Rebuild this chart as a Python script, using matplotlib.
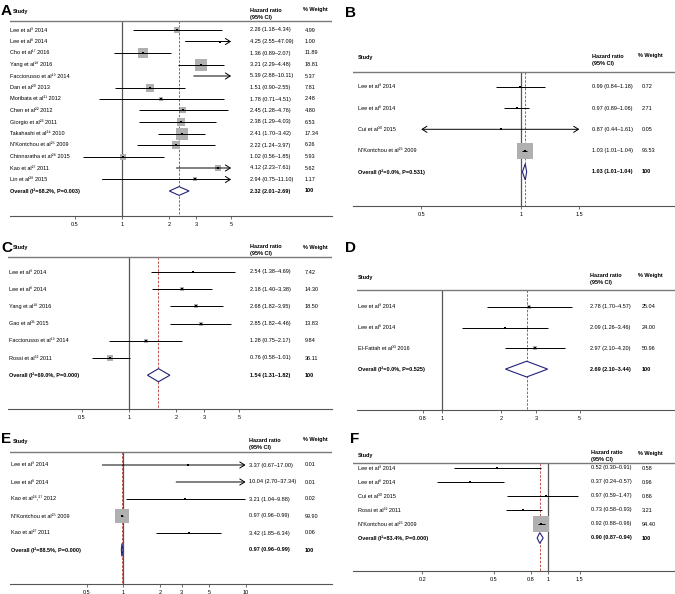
import numpy as np
import matplotlib
matplotlib.use('Agg')
import matplotlib.pyplot as plt
from matplotlib.transforms import blended_transform_factory
from matplotlib.patches import Polygon
from matplotlib.ticker import NullLocator

plt.rcParams['font.family'] = ['Liberation Sans', 'DejaVu Sans']

W, H = 675, 594

# ---------------- data ----------------
a_studies = ["Lee et al⁹ 2014", "Lee et al⁸ 2014", "Cho et al¹⁷ 2016", "Yang et al¹⁸ 2016",
             "Facciorusso et al¹⁹ 2014", "Dan et al²⁰ 2013", "Moribata et al²¹ 2012",
             "Chen et al²² 2012", "Giorgio et al²³ 2011", "Takahashi et al²⁴ 2010",
             "N'Kontchou et al²⁵ 2009", "Chinnaratha et al²⁶ 2015", "Kao et al²⁷ 2011",
             "Lin et al²⁸ 2015"]
a_hr = [2.26, 4.25, 1.36, 3.21, 5.39, 1.51, 1.78, 2.45, 2.38, 2.41, 2.22, 1.02, 4.12, 2.94]
a_lo = [1.18, 2.55, 0.89, 2.29, 2.88, 0.90, 0.71, 1.28, 1.29, 1.70, 1.24, 0.56, 2.23, 0.75]
a_hi = [4.34, 47.09, 2.07, 4.48, 10.11, 2.55, 4.51, 4.76, 4.03, 3.42, 3.97, 1.85, 7.61, 11.10]
a_wt = [4.99, 1.00, 11.89, 18.81, 5.37, 7.81, 2.48, 4.80, 6.53, 17.34, 6.26, 5.93, 5.62, 1.17]
a_overall = [2.32, 2.01, 2.69]
a_het = "Overall (I²=68.2%, P=0.003)"
a_ticks = [0.5, 1, 2, 3, 5]
a_ticklabels = ["0.5", "1", "2", "3", "5"]

b_studies = ["Lee et al⁹ 2014", "Lee et al⁸ 2014", "Cui et al³⁰ 2015", "N'Kontchou et al²⁵ 2009"]
b_hr = [0.99, 0.97, 0.87, 1.03]
b_lo = [0.84, 0.89, 0.44, 1.01]
b_hi = [1.18, 1.06, 1.61, 1.04]
b_wt = [0.72, 2.71, 0.05, 96.53]
b_overall = [1.03, 1.01, 1.04]
b_het = "Overall (I²=0.0%, P=0.531)"
b_ticks = [0.5, 1, 1.5]
b_ticklabels = ["0.5", "1", "1.5"]

c_studies = ["Lee et al⁹ 2014", "Lee et al⁸ 2014", "Yang et al¹⁸ 2016", "Gao et al³¹ 2015",
             "Facciorusso et al¹⁹ 2014", "Rossi et al³² 2011"]
c_hr = [2.54, 2.18, 2.68, 2.85, 1.28, 0.76]
c_lo = [1.38, 1.40, 1.82, 1.82, 0.75, 0.58]
c_hi = [4.69, 3.38, 3.95, 4.46, 2.17, 1.01]
c_wt = [7.42, 14.30, 18.50, 13.83, 9.84, 36.11]
c_overall = [1.54, 1.31, 1.82]
c_het = "Overall (I²=69.0%, P=0.000)"
c_ticks = [0.5, 1, 2, 3, 5]
c_ticklabels = ["0.5", "1", "2", "3", "5"]

d_studies = ["Lee et al⁹ 2014", "Lee et al⁸ 2014", "El-Fattah et al³³ 2016"]
d_hr = [2.78, 2.09, 2.97]
d_lo = [1.70, 1.26, 2.10]
d_hi = [4.57, 3.46, 4.20]
d_wt = [25.04, 24.00, 50.96]
d_overall = [2.69, 2.10, 3.44]
d_het = "Overall (I²=0.0%, P=0.525)"
d_ticks = [0.8, 1, 2, 3, 5]
d_ticklabels = ["0.8", "1", "2", "3", "5"]

e_studies = ["Lee et al⁹ 2014", "Lee et al⁸ 2014", "Kao et al²⁶,²⁷ 2012",
             "N'Kontchou et al²⁵ 2009", "Kao et al²⁷ 2011"]
e_hr = [3.37, 10.04, 3.21, 0.97, 3.42]
e_lo = [0.67, 2.70, 1.04, 0.96, 1.85]
e_hi = [17.00, 37.34, 9.88, 0.99, 6.34]
e_wt = [0.01, 0.01, 0.02, 99.90, 0.06]
e_overall = [0.97, 0.96, 0.99]
e_het = "Overall (I²=88.5%, P=0.000)"
e_ticks = [0.5, 1, 2, 3, 5, 10]
e_ticklabels = ["0.5", "1", "2", "3", "5", "10"]

f_studies = ["Lee et al⁹ 2014", "Lee et al⁸ 2014", "Cui et al³⁰ 2015", "Rossi et al³² 2011",
             "N'Kontchou et al²⁵ 2009"]
f_hr = [0.52, 0.37, 0.97, 0.73, 0.92]
f_lo = [0.30, 0.24, 0.59, 0.58, 0.88]
f_hi = [0.91, 0.57, 1.47, 0.93, 0.96]
f_wt = [0.58, 0.96, 0.86, 3.21, 94.40]
f_overall = [0.90, 0.87, 0.94]
f_het = "Overall (I²=83.4%, P=0.000)"
f_ticks = [0.2, 0.5, 0.8, 1, 1.5]
f_ticklabels = ["0.2", "0.5", "0.8", "1", "1.5"]

# ---------------- styles ----------------
BOX = '#b0b0b0'
NAVY = '#23237a'
RED = '#c0504d'
NULLC = '#555555'
AXC = '#555555'
FS = 4.0

fig = plt.figure(figsize=(W / 100, H / 100), dpi=100)


def panel(letter, studies, hr, lo, hi, wt, overall, het, ticks, ticklabels, g):
    left, right, top, bottom = g['left'], g['right'], g['top'], g['bottom']
    ax = fig.add_axes([left / W, 1 - bottom / H, (right - left) / W, (bottom - top) / H])
    idx = lambda px: (px - g['row0']) / g['drow']
    xf = lambda px: (px - left) / (right - left)
    ax.set_xscale('log')
    ax.set_xlim(np.exp((left - g['one']) / g['ppl']), np.exp((right - g['one']) / g['ppl']))
    ybot, ytop = idx(bottom), idx(top)
    ax.set_ylim(ybot, ytop)
    for s in ['top', 'right', 'left']:
        ax.spines[s].set_visible(False)
    ax.spines['bottom'].set_color(AXC)
    ax.spines['bottom'].set_linewidth(0.8)
    ax.set_yticks([])
    ax.set_xticks(ticks)
    ax.set_xticklabels(ticklabels)
    ax.xaxis.set_minor_locator(NullLocator())
    ax.tick_params(axis='x', length=2, width=0.6, color=AXC, labelsize=FS, pad=2.5)
    tr = blended_transform_factory(ax.transAxes, ax.transData)

    tmin, tmax = min(ticks), max(ticks)
    hline = idx(g['hline'])
    ax.axhline(hline, color='#7a7a7a', lw=1.0)
    ax.vlines(1, hline, ybot, color=NULLC, lw=0.9, zorder=1)
    ax.vlines(overall[0], hline, ybot, color=RED, lw=0.7, linestyles=(0, (2.5, 1.5)), zorder=1)

    # headers
    ax.text(xf(g['study_x']), idx(g['study_y']), "Study", transform=tr, fontsize=FS,
            fontweight='bold', va='center', ha='left')
    ax.text(xf(g['hr_x']), idx(g['hr_y'][0]), "Hazard ratio", transform=tr, fontsize=FS,
            fontweight='bold', va='center', ha='left')
    ax.text(xf(g['hr_x']), idx(g['hr_y'][1]), "(95% CI)", transform=tr, fontsize=FS,
            fontweight='bold', va='center', ha='left')
    ax.text(xf(g['wt_hx']), idx(g['hr_y'][0]), "% Weight", transform=tr, fontsize=FS,
            fontweight='bold', va='center', ha='left')

    for i, (name, h, l, u, w) in enumerate(zip(studies, hr, lo, hi, wt)):
        y = i
        lc, uc = max(l, tmin), min(u, tmax)
        la, ra = l < tmin, u > tmax
        if la or ra:
            style = '<->' if (la and ra) else ('->' if ra else '<-')
            ax.annotate('', xy=(uc, y), xytext=(lc, y),
                        arrowprops=dict(arrowstyle=style + ',head_length=0.35,head_width=0.22',
                                        lw=0.7, color='black', shrinkA=0, shrinkB=0), zorder=3)
        else:
            ax.plot([lc, uc], [y, y], color='black', lw=0.7, zorder=3, solid_capstyle='butt')
        if tmin <= h <= tmax:
            side_pt = g['k'] * np.sqrt(w) * 0.72
            ax.scatter([h], [y], s=side_pt ** 2, marker='s', color=BOX, linewidths=0, zorder=2)
            ax.plot([h], [y], marker='s', ms=1.5, color='black', mew=0, zorder=4)
        ax.text(xf(g['lab_x']), y, name, transform=tr, fontsize=FS, va='center', ha='left')
        ax.text(xf(g['hr_x']), y, f"{h:.2f} ({l:.2f}–{u:.2f})", transform=tr, fontsize=FS,
                va='center', ha='left')
        ax.text(xf(g['wt_x']), y, f"{w:.2f}", transform=tr, fontsize=FS, va='center', ha='left')

    yo = len(studies)
    est, olo, ohi = overall
    hh = 0.38
    ax.add_patch(Polygon([(olo, yo), (est, yo - hh), (ohi, yo), (est, yo + hh)], closed=True,
                         facecolor='white', edgecolor=NAVY, lw=0.8, zorder=3))
    ax.text(xf(g['lab_x']), yo, het, transform=tr, fontsize=FS, fontweight='bold',
            va='center', ha='left')
    ax.text(xf(g['hr_x']), yo, f"{est:.2f} ({olo:.2f}–{ohi:.2f})", transform=tr, fontsize=FS,
            fontweight='bold', va='center', ha='left')
    ax.text(xf(g['wt_x']), yo, "100", transform=tr, fontsize=FS, fontweight='bold',
            va='center', ha='left')

    lx, ly = g['letter']
    fig.text(lx / W, 1 - ly / H, letter, fontsize=11, fontweight='bold', va='baseline', ha='left')


geo = {
    'A': dict(left=10, right=332, top=0, bottom=216, row0=30, drow=11.5, one=122, ppl=67.8,
              k=2.8, study_x=13, study_y=11, hr_y=(10, 17), hline=21, letter=(1, 15),
              lab_x=10, hr_x=250, wt_hx=303, wt_x=305),
    'B': dict(left=353, right=675, top=0, bottom=206, row0=86.7, drow=21.3, one=521, ppl=144,
              k=1.53, study_x=358, study_y=58, hr_y=(56, 63), hline=72, letter=(345, 17),
              lab_x=358, hr_x=592, wt_hx=638, wt_x=642),
    'C': dict(left=8, right=332, top=235, bottom=409, row0=272, drow=17.2, one=129, ppl=68.3,
              k=1.0, study_x=13, study_y=247, hr_y=(247, 254), hline=257, letter=(1, 252),
              lab_x=9, hr_x=250, wt_hx=303, wt_x=305),
    'D': dict(left=357, right=675, top=235, bottom=410, row0=307, drow=20.7, one=442, ppl=85.5,
              k=0.6, study_x=358, study_y=278, hr_y=(276, 283), hline=290, letter=(345, 252),
              lab_x=358, hr_x=590, wt_hx=638, wt_x=642),
    'E': dict(left=10, right=332, top=425, bottom=584, row0=465, drow=17, one=123.5, ppl=53,
              k=1.5, study_x=13, study_y=441, hr_y=(440, 447), hline=452, letter=(1, 443),
              lab_x=11, hr_x=249, wt_hx=303, wt_x=305),
    'F': dict(left=353, right=675, top=425, bottom=571, row0=468, drow=14, one=548, ppl=78,
              k=1.6, study_x=358, study_y=455, hr_y=(453, 459.5), hline=463, letter=(350, 443),
              lab_x=358, hr_x=591, wt_hx=638, wt_x=642),
}

panel('A', a_studies, a_hr, a_lo, a_hi, a_wt, a_overall, a_het, a_ticks, a_ticklabels, geo['A'])
panel('B', b_studies, b_hr, b_lo, b_hi, b_wt, b_overall, b_het, b_ticks, b_ticklabels, geo['B'])
panel('C', c_studies, c_hr, c_lo, c_hi, c_wt, c_overall, c_het, c_ticks, c_ticklabels, geo['C'])
panel('D', d_studies, d_hr, d_lo, d_hi, d_wt, d_overall, d_het, d_ticks, d_ticklabels, geo['D'])
panel('E', e_studies, e_hr, e_lo, e_hi, e_wt, e_overall, e_het, e_ticks, e_ticklabels, geo['E'])
panel('F', f_studies, f_hr, f_lo, f_hi, f_wt, f_overall, f_het, f_ticks, f_ticklabels, geo['F'])

fig.savefig('out.png', dpi=100)
